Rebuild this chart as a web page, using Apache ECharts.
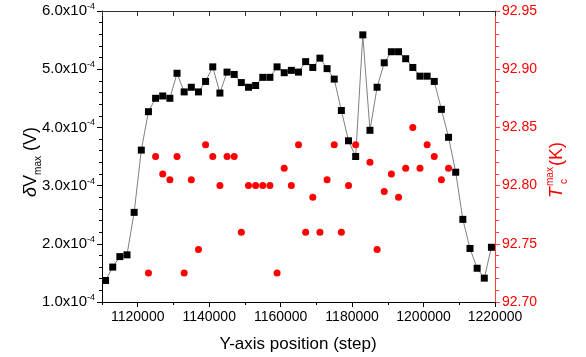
<!DOCTYPE html>
<html><head><meta charset="utf-8">
<script src="https://cdn.jsdelivr.net/npm/echarts@6/dist/echarts.min.js"></script>
<style>html,body{margin:0;padding:0;background:#fff}#c{width:586px;height:357px}</style>
</head><body><div id="c"></div>
<script>
// Black squares: Y-axis position (step) and deltaV max (V)
const positions = [1111000,1113000,1115000,1117000,1119000,1121000,1123000,1125000,1127000,1129000,
  1131000,1133000,1135000,1137000,1139000,1141000,1143000,1145000,1147000,1149000,
  1151000,1153000,1155000,1157000,1159000,1161000,1163000,1165000,1167000,1169000,
  1171000,1173000,1175000,1177000,1179000,1181000,1183000,1185000,1187000,1189000,
  1191000,1193000,1195000,1197000,1199000,1201000,1203000,1205000,1207000,1209000,
  1211000,1213000,1215000,1217000,1219000];
const deltaV = [1.37e-4,1.60e-4,1.78e-4,1.81e-4,2.54e-4,3.61e-4,4.27e-4,4.50e-4,4.54e-4,4.50e-4,
  4.93e-4,4.61e-4,4.69e-4,4.61e-4,4.79e-4,5.04e-4,4.59e-4,4.95e-4,4.91e-4,4.77e-4,
  4.69e-4,4.72e-4,4.86e-4,4.86e-4,5.04e-4,4.94e-4,4.98e-4,4.95e-4,5.13e-4,5.03e-4,
  5.19e-4,5.01e-4,4.83e-4,4.29e-4,3.77e-4,3.50e-4,5.59e-4,3.95e-4,4.69e-4,5.11e-4,
  5.30e-4,5.30e-4,5.18e-4,5.03e-4,4.88e-4,4.88e-4,4.79e-4,4.31e-4,3.83e-4,3.23e-4,
  2.42e-4,1.92e-4,1.58e-4,1.41e-4,1.94e-4];
// Red circles: Y-axis position (step) and Tc max (K)
const tcPositions = [1123000,1125000,1127000,1129000,1131000,1133000,1135000,1137000,1139000,1141000,
  1143000,1145000,1147000,1149000,1151000,1153000,1155000,1157000,1159000,1161000,
  1163000,1165000,1167000,1169000,1171000,1173000,1175000,1177000,1179000,1181000,
  1185000,1187000,1189000,1191000,1193000,1195000,1197000,1199000,1201000,1203000,
  1205000,1207000];
const tcMax = [92.725,92.825,92.81,92.805,92.825,92.725,92.805,92.745,92.835,92.825,
  92.80,92.825,92.825,92.76,92.80,92.80,92.80,92.80,92.725,92.815,
  92.80,92.835,92.76,92.79,92.76,92.805,92.835,92.76,92.80,92.835,
  92.82,92.745,92.795,92.81,92.79,92.815,92.85,92.815,92.835,92.825,
  92.805,92.815];
const xLabelTicks = [1120000,1140000,1160000,1180000,1200000,1220000];

const FONT = '"Liberation Sans", Arial, sans-serif';
const RED = '#ff0000';
const chart = echarts.init(document.getElementById('c'), null, {renderer:'canvas'});
const xMin = 1110000, xMax = 1220000;
const option = {
  animation:false,
  backgroundColor:'#ffffff',
  grid:{left:102,right:91,top:11,bottom:55},
  xAxis:[
    {type:'value',position:'bottom',min:xMin,max:xMax,interval:10000,
     axisLine:{show:true,onZero:false,lineStyle:{color:'#000',width:1}},
     axisTick:{show:true,inside:false,length:3,lineStyle:{color:'#000',width:1}},
     axisLabel:{show:true,margin:8,color:'#000',fontSize:14,fontFamily:FONT,
       formatter:v=>xLabelTicks.includes(Math.round(v))?String(Math.round(v)):''},
     splitLine:{show:false}},
    {type:'value',position:'bottom',min:xMin,max:xMax,
     axisLine:{show:false,onZero:false},
     axisTick:{show:true,inside:false,length:5,customValues:xLabelTicks,lineStyle:{color:'#000',width:1}},
     axisLabel:{show:false},splitLine:{show:false}},
    {type:'value',position:'top',min:xMin,max:xMax,interval:10000,
     axisLine:{show:true,onZero:false,lineStyle:{color:'#333',width:1}},
     axisTick:{show:true,inside:true,length:5,lineStyle:{color:'#333',width:1}},
     axisLabel:{show:false},splitLine:{show:false}}
  ],
  yAxis:[
    {type:'value',position:'left',min:1e-4,max:6e-4,interval:1e-4,
     axisLine:{show:true,onZero:false,lineStyle:{color:'#000',width:1}},
     axisTick:{show:true,inside:false,length:5,lineStyle:{color:'#000',width:1}},
     minorTick:{show:true,splitNumber:5,length:3,lineStyle:{color:'#000',width:1}},
     axisLabel:{margin:7,
       formatter:v=>'{a|'+(v*1e4).toFixed(1)+'x10}{b|-4}',
       rich:{a:{fontSize:15,lineHeight:18,color:'#000',fontFamily:FONT},
             b:{fontSize:9,lineHeight:9,verticalAlign:'top',color:'#000',fontFamily:FONT}}},
     splitLine:{show:false}},
    {type:'value',position:'right',min:92.70,max:92.95,interval:0.05,
     axisLine:{show:true,onZero:false,lineStyle:{color:'#ff4040',width:1}},
     axisTick:{show:true,inside:false,length:5,lineStyle:{color:'#ff4040',width:1}},
     minorTick:{show:true,splitNumber:5,length:4,lineStyle:{color:'#ff4040',width:1}},
     axisLabel:{margin:7,color:RED,fontSize:14,fontFamily:FONT,formatter:v=>v.toFixed(2)},
     splitLine:{show:false}}
  ],
  series:[
    {type:'line',xAxisIndex:0,yAxisIndex:0,
     data:positions.map((p,i)=>[p,deltaV[i]]),
     symbol:'rect',symbolSize:7,showSymbol:true,
     itemStyle:{color:'#000',opacity:1},
     lineStyle:{color:'#808080',width:1},z:2},
    {type:'scatter',xAxisIndex:0,yAxisIndex:1,
     data:tcPositions.map((p,i)=>[p,tcMax[i]]),
     symbol:'circle',symbolSize:7,
     itemStyle:{color:RED,opacity:1},z:3}
  ],
  graphic:[
    {type:'text',x:298,y:344,
     style:{text:'Y-axis position (step)',fill:'#000',font:'17px '+FONT,align:'center',verticalAlign:'middle'}},
    {type:'text',x:31,y:162,rotation:Math.PI/2,
     style:{text:'{d|δ}{v|V}{s|max}{v| (V)}',align:'center',verticalAlign:'middle',
       rich:{d:{fontSize:18,fontStyle:'italic',lineHeight:24,fill:'#000',fontFamily:FONT},
             v:{fontSize:18,lineHeight:24,fill:'#000',fontFamily:FONT},
             s:{fontSize:10,lineHeight:10,verticalAlign:'bottom',fill:'#000',fontFamily:FONT}}}},
    {type:'group',x:557,y:170,rotation:Math.PI/2,children:[
      {type:'text',x:-28,y:0,style:{text:'T',fill:RED,font:'italic 18px '+FONT,align:'left',verticalAlign:'middle'}},
      {type:'text',x:-16,y:-7,style:{text:'max',fill:RED,font:'10px '+FONT,align:'left',verticalAlign:'middle'}},
      {type:'text',x:-14,y:7,style:{text:'c',fill:RED,font:'10px '+FONT,align:'left',verticalAlign:'middle'}},
      {type:'text',x:4,y:0,style:{text:'(K)',fill:RED,font:'18px '+FONT,align:'left',verticalAlign:'middle'}}
    ]}
  ]
};
chart.setOption(option);
</script>
</body></html>
